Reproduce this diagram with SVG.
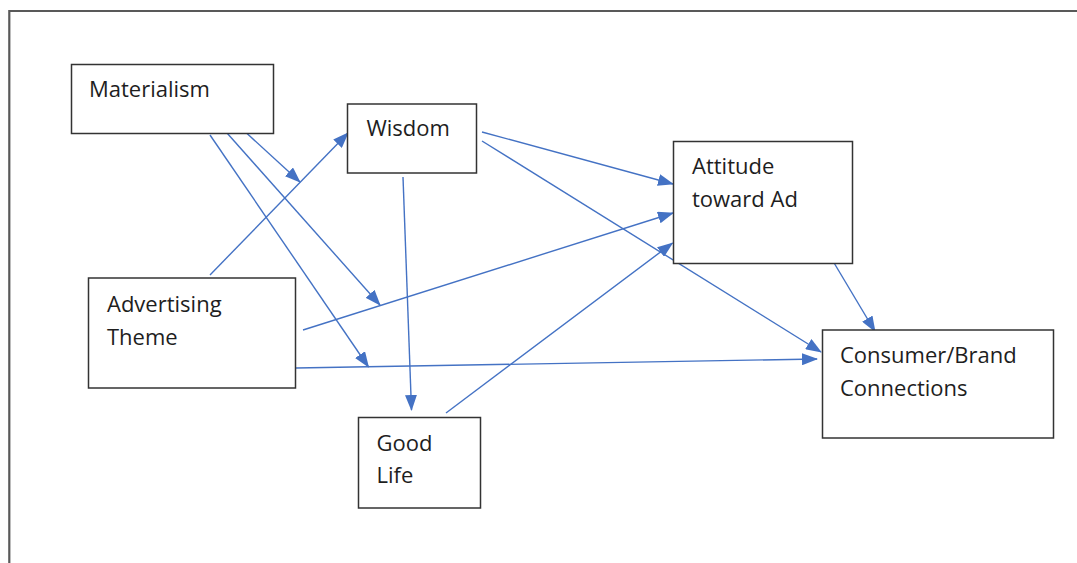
<svg xmlns="http://www.w3.org/2000/svg" width="1077" height="563" viewBox="0 0 1077 563">
  <style>
    .box { fill: #ffffff; stroke: #333333; stroke-width: 1.5; }
    .lbl { font-family: "Open Sans", "Liberation Sans", sans-serif; font-size: 22px; fill: #1e1e1e; }
    .edge { fill: none; stroke: #4472c4; stroke-width: 1.4; marker-end: url(#arrow); }
    .frame { fill: none; stroke: #595959; stroke-width: 2.2; }
  </style>
  <defs>
    <marker id="arrow" markerUnits="userSpaceOnUse" markerWidth="16" markerHeight="12" viewBox="0 0 16 12" refX="15" refY="6" orient="auto">
      <path d="M0,0 L16,6 L0,12 Z" fill="#4472c4"/>
    </marker>
  </defs>

  <rect width="1077" height="563" fill="#ffffff"/>
  <!-- page frame -->
  <path class="frame" d="M9.3,563 L9.3,11 L1077,11"/>

  <g id="connectors">
    <line class="edge" x1="246.5" y1="133" x2="300" y2="182"/>
    <line class="edge" x1="227" y1="133" x2="380" y2="305"/>
    <line class="edge" x1="210" y1="135" x2="368.5" y2="367"/>
    <line class="edge" x1="210" y1="275" x2="348" y2="133"/>
    <line class="edge" x1="303" y1="330" x2="673" y2="213"/>
    <line class="edge" x1="296" y1="368" x2="817" y2="359"/>
    <line class="edge" x1="403" y1="177" x2="411.5" y2="410"/>
    <line class="edge" x1="446" y1="413" x2="672.5" y2="243"/>
    <line class="edge" x1="482" y1="132" x2="673" y2="184"/>
    <line class="edge" x1="482" y1="141" x2="821" y2="352"/>
    <line class="edge" x1="833.5" y1="262" x2="875" y2="331.5"/>
  </g>

  <g id="materialism">
    <rect class="box" x="71.5" y="64.5" width="202" height="69"/>
    <text class="lbl" x="89" y="96.5">Materialism</text>
  </g>
  <g id="wisdom">
    <rect class="box" x="347.5" y="104" width="129" height="69"/>
    <text class="lbl" x="366.5" y="135.5">Wisdom</text>
  </g>
  <g id="advertising-theme">
    <rect class="box" x="88.5" y="278" width="207" height="110"/>
    <text class="lbl" x="107" y="311.5">Advertising</text>
    <text class="lbl" x="107" y="344.5">Theme</text>
  </g>
  <g id="good-life">
    <rect class="box" x="358.5" y="417.5" width="122" height="90.5"/>
    <text class="lbl" x="376.5" y="450.5">Good</text>
    <text class="lbl" x="376.5" y="482.5">Life</text>
  </g>
  <g id="attitude-toward-ad">
    <rect class="box" x="673.5" y="141.5" width="179" height="122"/>
    <text class="lbl" x="692" y="174">Attitude</text>
    <text class="lbl" x="692" y="206.5">toward Ad</text>
  </g>
  <g id="consumer-brand-connections">
    <rect class="box" x="822.5" y="330" width="231" height="108"/>
    <text class="lbl" x="840" y="362.5">Consumer/Brand</text>
    <text class="lbl" x="840" y="395.5">Connections</text>
  </g>
</svg>
